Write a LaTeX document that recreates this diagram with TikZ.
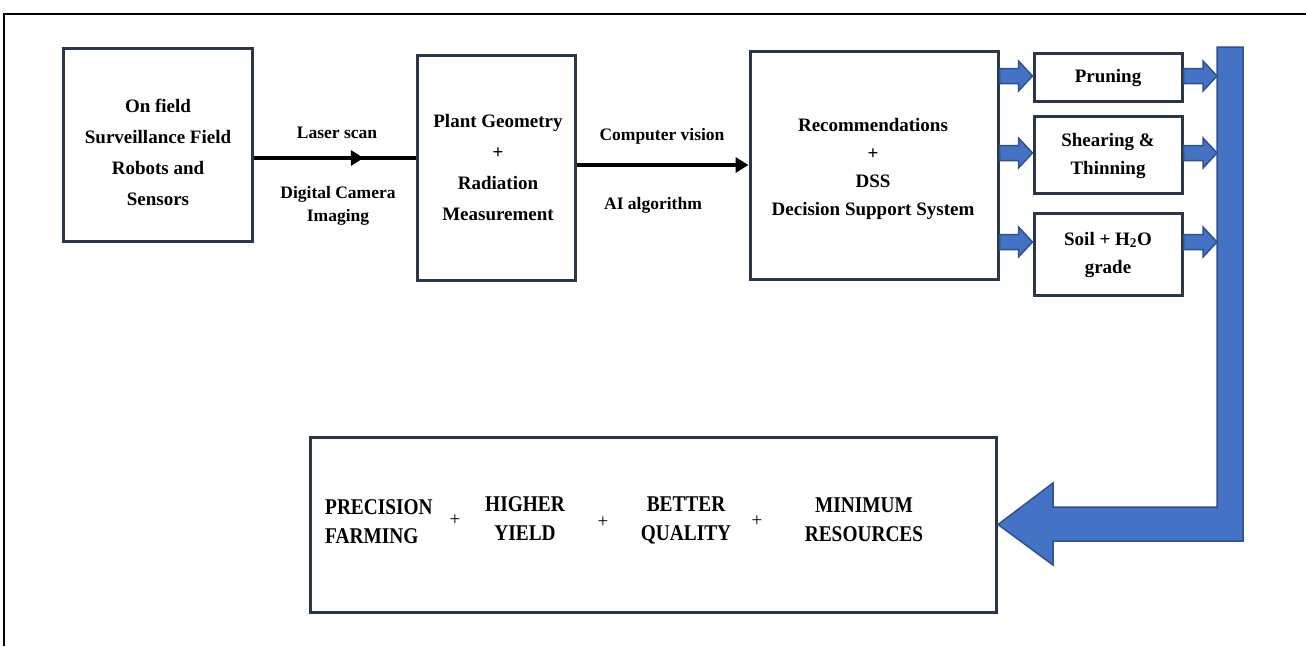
\documentclass[tikz,border=0pt]{standalone}
\usepackage{fontspec}
\setmainfont{Liberation Serif}
\newfontfamily\condfont{Liberation Serif}[FakeStretch=0.86]
\usetikzlibrary{calc,arrows.meta,decorations.markings}
\definecolor{boxline}{HTML}{2B3646}
\definecolor{bluefill}{HTML}{4472C4}
\definecolor{blueline}{HTML}{2F528F}
\newcommand{\blockarrow}[2]{%
  \draw[barrow] ($#1+(0,-7.5)$) -- ($#2+(-14,-7.5)$) -- ($#2+(-14,-15)$) -- #2
    -- ($#2+(-14,15)$) -- ($#2+(-14,7.5)$) -- ($#1+(0,7.5)$) -- cycle;}
\begin{document}
\begin{tikzpicture}[x=1pt,y=-1pt,
  box/.style={draw=boxline,line width=3pt,fill=white,minimum width=#1},
  txt/.style={font=\bfseries\fontsize{19}{31}\selectfont,align=center,inner sep=0pt},
  lbl/.style={font=\bfseries\fontsize{17.5}{23}\selectfont,align=center,inner sep=0pt},
  small/.style={font=\bfseries\fontsize{19}{28}\selectfont,align=center,inner sep=0pt},
  big/.style={font=\condfont\bfseries\fontsize{22.5}{29}\selectfont,align=center,inner sep=0pt},
  plus/.style={font=\fontsize{19}{22}\selectfont,inner sep=0pt},
  barrow/.style={fill=bluefill,draw=blueline,line width=1.5pt,line join=miter},
  conn/.style={line width=3.5pt,black},
  midarrow/.style={decoration={markings,mark=at position 0.68 with {\arrow{Triangle[length=13pt,width=15pt]}}},postaction={decorate}}
]
\useasboundingbox (0,0) rectangle (1306,646);
\draw[line width=2pt] (4,646) -- (4,14) -- (1306,14);

% main boxes
\node[box=189pt,minimum height=193pt] (b1) at (158,144.5) {};
\node[box=158pt,minimum height=225pt] (b2) at (496,167.5) {};
\node[box=248pt,minimum height=228pt] (b3) at (874,165) {};
\node[box=148pt,minimum height=48pt] (pr) at (1108,77) {};
\node[box=148pt,minimum height=77pt] (sh) at (1108,154.5) {};
\node[box=148pt,minimum height=82pt] (so) at (1108,254) {};
\node[box=686pt,minimum height=175pt] (res) at (653.5,524.5) {};

% texts in boxes
\node[txt] (t1) at (158,152) {On field\\Surveillance Field\\Robots and\\Sensors};
\node[txt] (t2) at (498,168) {Plant Geometry\\+\\Radiation\\Measurement};
\node[txt,font=\bfseries\fontsize{19}{28}\selectfont] (t3) at (873,168.5) {Recommendations\\+\\DSS\\Decision Support System};
\node[small] (tp) at (1108,78) {Pruning};
\node[small] (ts) at (1108,156) {Shearing \&\\Thinning};
\node[small] (tso) at (1108,254.5) {Soil + H\textsubscript{2}O\\grade};

% bottom texts
\node[big,align=left,anchor=west] (r1) at (325,522) {PRECISION\\FARMING};
\node[plus] (p1) at (455,520) {+};
\node[big] (r2) at (525,519) {HIGHER\\YIELD};
\node[plus] (p2) at (603,522) {+};
\node[big] (r3) at (686,520) {BETTER\\QUALITY};
\node[plus] (p3) at (757,521) {+};
\node[big] (r4) at (864,520) {MINIMUM\\RESOURCES};

% black connectors
\coordinate (y1) at (0,158);
\coordinate (y2) at (0,165);
\draw[conn,midarrow] (b1.east |- y1) -- (b2.west |- y1);
\draw[conn,-{Triangle[length=13pt,width=15pt]}] (b2.east |- y2) -- (b3.west |- y2);
\node[lbl] (l1) at (337,133) {Laser scan};
\node[lbl] (l2) at (338,206) {Digital Camera\\Imaging};
\node[lbl] (l3) at (662,136) {Computer vision};
\node[lbl] (l4) at (653,205) {AI algorithm};

% blue block arrows
\coordinate (a1) at (0,76);
\coordinate (a2) at (0,153);
\coordinate (a3) at (0,242);
\blockarrow{(b3.east|-a1)}{(pr.west|-a1)}
\blockarrow{(b3.east|-a2)}{(sh.west|-a2)}
\blockarrow{(b3.east|-a3)}{(so.west|-a3)}
\coordinate (bl) at (1217,0);
\blockarrow{(pr.east|-a1)}{(bl|-a1)}
\blockarrow{(sh.east|-a2)}{(bl|-a2)}
\blockarrow{(so.east|-a3)}{(bl|-a3)}

% big return arrow
\draw[barrow] (1217,47) -- (1243,47) -- (1243,541) -- (1053,541) -- (1053,565)
  -- (res.east) -- (1053,483) -- (1053,507) -- (1217,507) -- cycle;
\end{tikzpicture}
\end{document}
